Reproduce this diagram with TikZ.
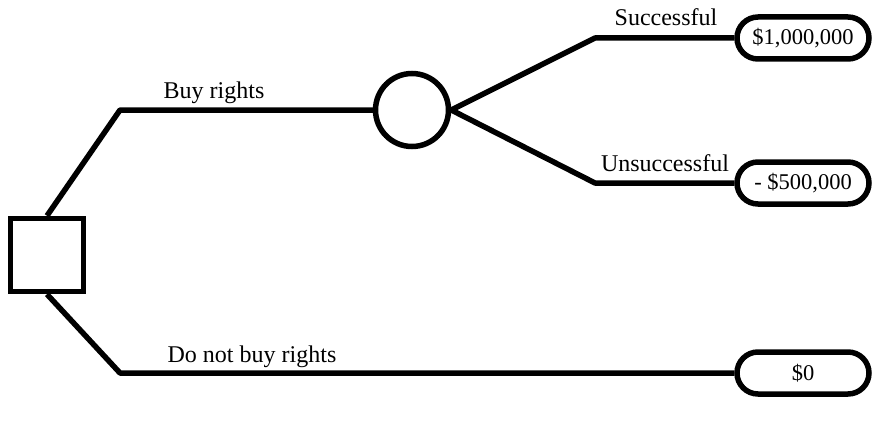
\documentclass[tikz,border=0pt]{standalone}
\usepackage{fontspec}
\setmainfont{Liberation Serif}
\begin{document}
\begin{tikzpicture}[x=1pt,y=-1pt,
  edge/.style={line width=5.5pt, line join=round},
  payoff/.style={draw, line width=5.5pt, rounded corners=21pt, minimum width=132pt, minimum height=42pt, inner sep=0pt, font=\fontsize{22.5}{26}\selectfont},
  decision/.style={draw, line width=5.5pt, minimum width=73pt, minimum height=73pt, inner sep=0pt},
  chance/.style={draw, circle, line width=5.5pt, minimum size=73pt, inner sep=0pt},
  lbl/.style={font=\fontsize{24}{28}\selectfont, inner sep=0pt, anchor=base}]
\useasboundingbox (0,0) rectangle (884,428);
\node[decision] (d) at (47,255) {};
\node[chance] (c) at (412,110) {};
\node[payoff] (p1) at (803,38) {\$1,000,000};
\node[payoff] (p2) at (803,183) {- \$500,000};
\node[payoff] (p3) at (803,373) {\$0};
\coordinate (a1) at (120,110);
\coordinate (a2) at (120,373);
\coordinate (b1) at (595,38);
\coordinate (b2) at (595,183);
\draw[edge] (d.north) -- (a1) -- (c.west);
\draw[edge] (d.south) -- (a2) -- (p3.west);
\draw[edge] (c.east) -- (b1) -- (p1.west);
\draw[edge] (c.east) -- (b2) -- (p2.west);
\node[lbl] (l1) at (214,99) {Buy rights};
\node[lbl] (l2) at (252,362) {Do not buy rights};
\node[lbl] (l3) at (666,26) {Successful};
\node[lbl] (l4) at (665,171) {Unsuccessful};
\end{tikzpicture}
\end{document}
